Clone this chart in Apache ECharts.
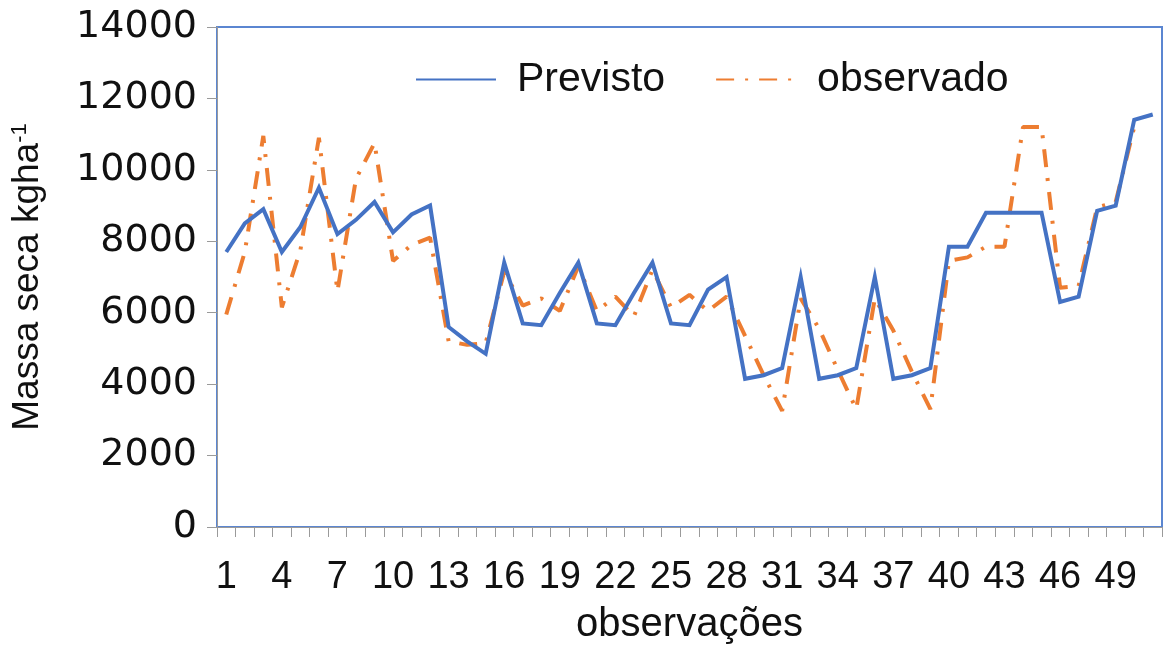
<!DOCTYPE html>
<html>
<head>
<meta charset="utf-8">
<script src="https://cdn.jsdelivr.net/npm/echarts@6/dist/echarts.min.js"></script>
<style>
  html, body { margin: 0; padding: 0; background: #fff; }
  #chart { width: 1165px; height: 646px; }
</style>
</head>
<body>
<div id="chart"></div>
<script>
// Observations 1..51
const observacoes = Array.from({ length: 51 }, (_, i) => String(i + 1));

// Predicted dry mass (kg/ha)
const previsto = [
  7700, 8500, 8900, 7700, 8400, 9500, 8200, 8600, 9100, 8250,
  8750, 9000, 5600, 5200, 4850, 7400, 5700, 5650, 6550, 7400,
  5700, 5650, 6550, 7400, 5700, 5650, 6650, 7000, 4150, 4250,
  4450, 7000, 4150, 4250, 4450, 7000, 4150, 4250, 4450, 7850,
  7850, 8800, 8800, 8800, 8800, 6300, 6450, 8850, 9000, 11400,
  11550
];

// Observed dry mass (kg/ha)
const observado = [
  5950, 7700, 10950, 6150, 7750, 10900, 6600, 9750, 10750, 7450,
  7900, 8100, 5200, 5100, 5150, 7150, 6200, 6400, 6050, 7300,
  6050, 6450, 5900, 7200, 6150, 6500, 6050, 6450, 5350, 4250,
  3250, 6400, 5550, 4400, 3300, 6400, 5500, 4350, 3300, 7450,
  7550, 7850, 7850, 11200, 11200, 6700, 6750, 8950, 9100, 11200,
  null
];

const yTicks = { min: 0, max: 14000, interval: 2000 };

const FONT = 'Liberation Sans, Arial, sans-serif';

const chart = echarts.init(document.getElementById('chart'));
chart.setOption({
  animation: false,
  backgroundColor: '#ffffff',
  grid: {
    left: 217, right: 3, top: 27, bottom: 119,
    containLabel: false,
    outerBoundsMode: 'none',
    show: true, borderColor: '#5B86D1', borderWidth: 2
  },
  legend: {
    left: 410, top: 54,
    itemWidth: 80, itemHeight: 16, itemGap: 50,
    itemStyle: { opacity: 0 },
    textStyle: { fontFamily: FONT, fontSize: 41, color: '#111', padding: [0, 0, 0, 16] },
    data: ['Previsto', 'observado']
  },
  xAxis: {
    type: 'category',
    data: observacoes,
    boundaryGap: true,
    name: 'observações',
    nameLocation: 'middle',
    nameGap: 78,
    nameTextStyle: { fontFamily: FONT, fontSize: 40, color: '#111' },
    axisLine: { show: true, lineStyle: { color: '#9a9a9a', width: 1 } },
    axisTick: { show: true, interval: 0, length: 10, lineStyle: { color: '#9a9a9a' } },
    axisLabel: {
      interval: 2, margin: 32,
      fontFamily: FONT, fontSize: 38, color: '#111'
    },
    splitLine: { show: false }
  },
  yAxis: {
    type: 'value',
    min: yTicks.min, max: yTicks.max, interval: yTicks.interval,
    name: 'Massa seca kgha{sup|-1}',
    nameLocation: 'middle',
    nameRotate: 90,
    nameGap: 170,
    nameTextStyle: {
      fontFamily: FONT, fontSize: 37, color: '#111',
      rich: {
        sup: { fontFamily: FONT, fontSize: 22, color: '#111', verticalAlign: 'top', padding: [0, 0, 16, 0] }
      }
    },
    axisLine: { show: true, lineStyle: { color: '#9a9a9a', width: 1 } },
    axisTick: { show: true, inside: false, length: 10, lineStyle: { color: '#9a9a9a' } },
    axisLabel: {
      margin: 20, fontFamily: 'DejaVu Sans', fontSize: 38, color: '#111',
      formatter: (v) => String(v)
    },
    splitLine: { show: false }
  },
  series: [
    {
      name: 'Previsto',
      type: 'line',
      data: previsto,
      symbol: 'none',
      lineStyle: { color: '#4472C4', width: 4, join: 'miter' },
      itemStyle: { color: '#4472C4' },
      z: 3
    },
    {
      name: 'observado',
      type: 'line',
      data: observado,
      symbol: 'none',
      connectNulls: false,
      lineStyle: { color: '#ED7D31', width: 4, type: [18, 11, 3, 11] },
      itemStyle: { color: '#ED7D31' },
      z: 2
    }
  ]
});
</script>
</body>
</html>
